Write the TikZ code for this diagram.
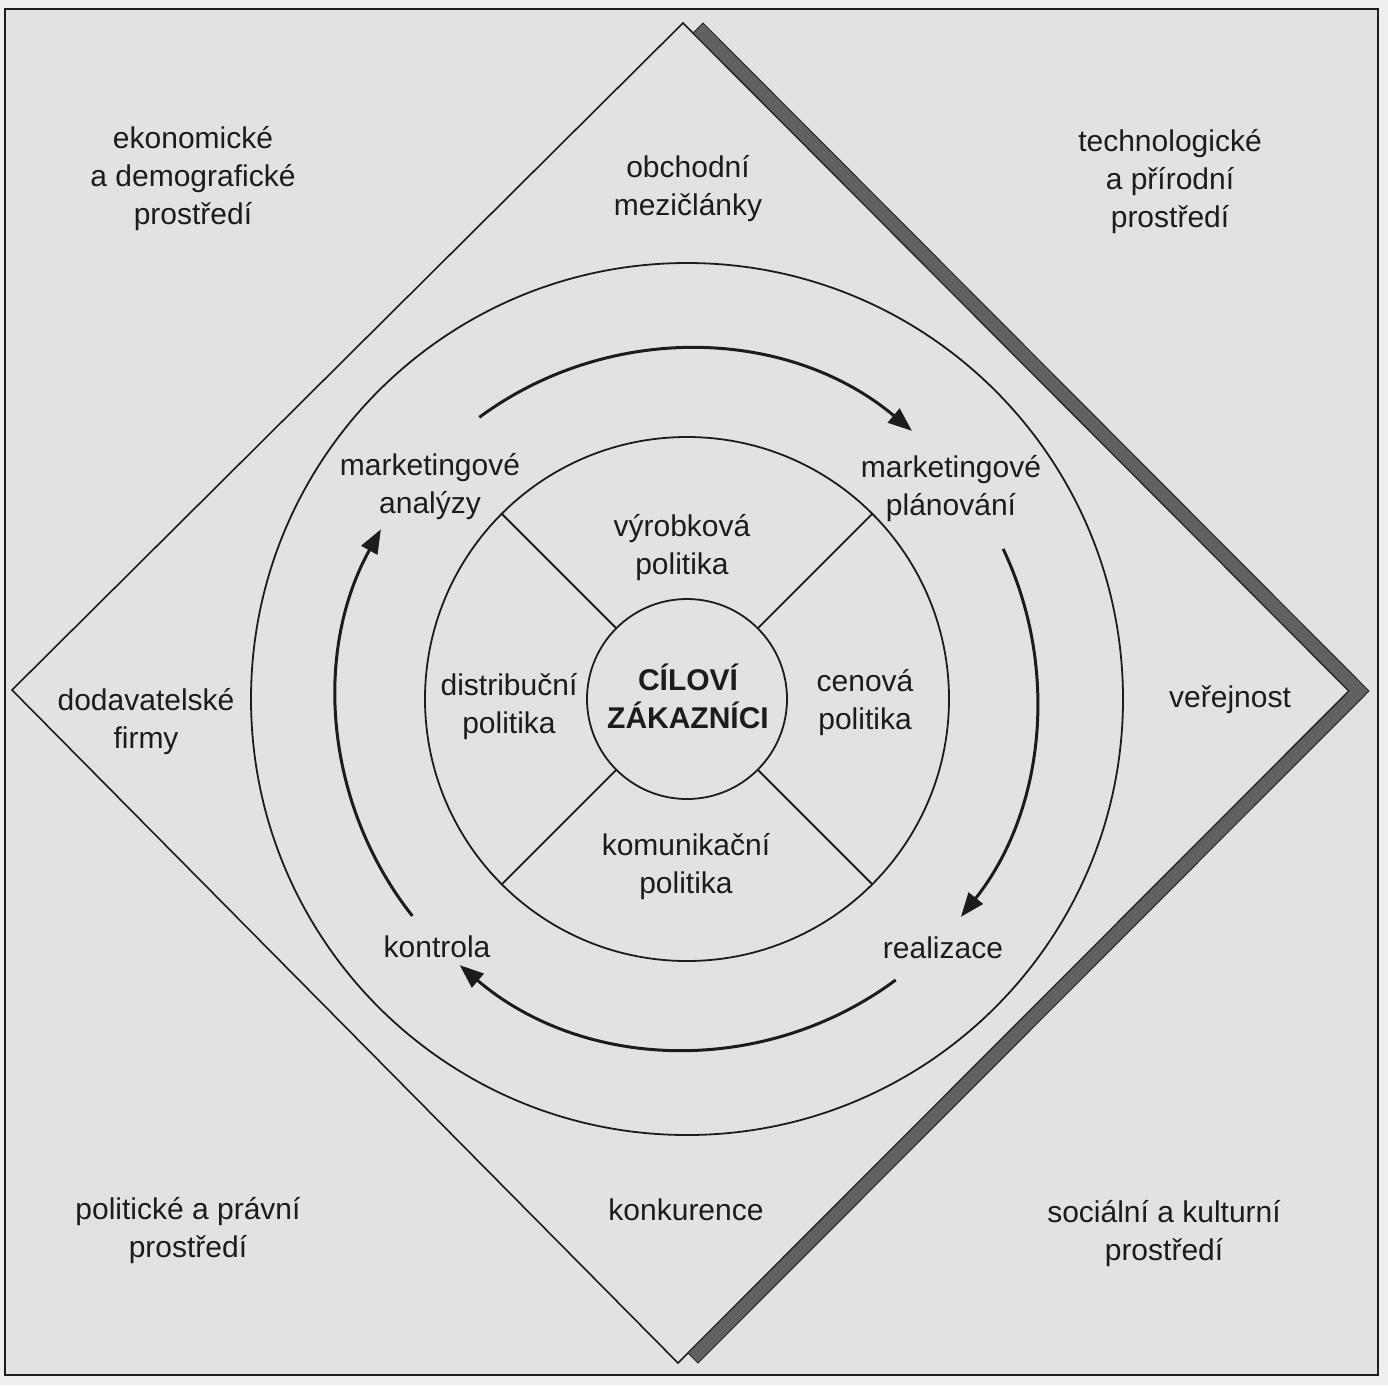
\documentclass[tikz,border=0pt]{standalone}
\usepackage{fontspec}
\setmainfont{Liberation Sans}
\usetikzlibrary{arrows.meta}
\definecolor{paper}{RGB}{238,238,240}
\definecolor{panel}{RGB}{226,226,226}
\definecolor{ink}{RGB}{28,28,30}
\begin{document}
\begin{tikzpicture}[x=1pt,y=-1pt,
  lbl/.style={align=center,text=ink,font=\fontsize{30}{38}\selectfont,inner sep=0pt},
  ring/.style={draw=ink,line width=1.8pt},
  cyc/.style={draw=ink,line width=3pt,-{Triangle[length=24pt,width=18pt]}},
  band/.style={fill=black!62,draw=black!85,line width=1pt}
]
\useasboundingbox (0,0) rectangle (1388,1385);
\fill[paper] (0,0) rectangle (1388,1385);
\draw[fill=panel,draw=ink,line width=2pt] (5,9) rectangle (1378,1375);
% diamond
\draw[ring,line width=1.6pt] (683,23) -- (1349,691) -- (678,1363) -- (12,690) -- cycle;
% shadow band
\path[band] (693,33) -- (1349,691) -- (688,1353) -- (698,1363) -- (1369,691) -- (703,23) -- cycle;
% circles
\coordinate (c) at (687,699);
\draw[ring] (c) circle[radius=436];
\draw[ring] (c) circle[radius=262];
\draw[ring] (c) circle[radius=100];
\foreach \a in {45,135,225,315}
  \draw[ring] ([shift={(\a:100)}]c) -- ([shift={(\a:262)}]c);
% cycle arrows
\draw[cyc] ([shift={(-126.4:350)}]c) arc[start angle=-126.4,end angle=-50,radius=350];
\draw[cyc] ([shift={(-25.4:350)}]c) arc[start angle=-25.4,end angle=38.5,radius=350];
\draw[cyc] ([shift={(53.4:350)}]c) arc[start angle=53.4,end angle=130.5,radius=350];
\draw[cyc] ([shift={(141.7:350)}]c) arc[start angle=141.7,end angle=209,radius=350];
% labels
\node[lbl] (eko) at (193,179) {ekonomické\\a demografické\\prostředí};
\node[lbl] (obch) at (688,189) {obchodní\\mezičlánky};
\node[lbl] (tech) at (1170,182) {technologické\\a přírodní\\prostředí};
\node[lbl] (dod) at (146,722) {dodavatelské\\firmy};
\node[lbl] (ver) at (1230,700) {veřejnost};
\node[lbl] (pol) at (188,1231) {politické a právní\\prostředí};
\node[lbl] (konk) at (686,1210) {konkurence};
\node[lbl] (soc) at (1164,1234) {sociální a kulturní\\prostředí};
\node[lbl] (ma) at (430,487) {marketingové\\analýzy};
\node[lbl] (mp) at (951,489) {marketingové\\plánování};
\node[lbl] (vyr) at (682,548) {výrobková\\politika};
\node[lbl] (dis) at (509,707) {distribuční\\politika};
\node[lbl,font=\fontsize{30}{38}\selectfont\bfseries] (cil) at (688,696) {CÍLOVÍ\\ZÁKAZNÍCI};
\node[lbl] (cen) at (865,703) {cenová\\politika};
\node[lbl] (kom) at (686,867) {komunikační\\politika};
\node[lbl] (kon) at (437,947) {kontrola};
\node[lbl] (rea) at (943,948) {realizace};
\end{tikzpicture}
\end{document}
